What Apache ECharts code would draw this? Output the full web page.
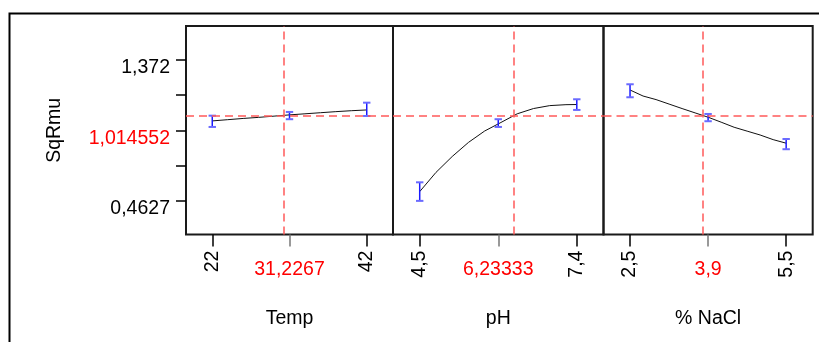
<!DOCTYPE html>
<html>
<head>
<meta charset="utf-8">
<script src="https://cdn.jsdelivr.net/npm/echarts@6/dist/echarts.min.js"></script>
<style>
  html, body { margin: 0; padding: 0; background: #ffffff; }
  #chart { width: 819px; height: 342px; }
</style>
</head>
<body>
<div id="chart"></div>
<script>
// Factor settings (low / high / current) and their printed labels
const factorNames = ['Temp', 'pH', '% NaCl'];
const factorLow = [22, 4.5, 2.5];
const factorHigh = [42, 7.4, 5.5];
const factorCurrent = [31.2267, 6.23333, 3.9];
const factorLowText = ['22', '4,5', '2,5'];
const factorHighText = ['42', '7,4', '5,5'];
const factorCurrentText = ['31,2267', '6,23333', '3,9'];

// Response
const responseName = 'SqRmu';
const responseLow = 0.4627;
const responseHigh = 1.372;
const responseCurrent = 1.014552;
const responseLowText = '0,4627';
const responseHighText = '1,372';
const responseCurrentText = '1,014552';

// Predicted response curves for each factor
const tempX = [22, 24, 26, 28, 30, 32, 34, 36, 38, 40, 42];
const tempY = [0.978, 0.986, 0.994, 1.001, 1.009, 1.017, 1.024, 1.031, 1.038, 1.044, 1.049];
const phX = [4.5, 4.8, 5.1, 5.4, 5.7, 6.0, 6.3, 6.6, 6.9, 7.2, 7.4];
const phY = [0.521, 0.645, 0.748, 0.839, 0.913, 0.968, 1.024, 1.058, 1.077, 1.083, 1.084];
const naclX = [2.5, 2.75, 3.0, 3.25, 3.5, 3.75, 4.0, 4.25, 4.5, 4.75, 5.0, 5.25, 5.5];
const naclY = [1.178, 1.139, 1.116, 1.087, 1.058, 1.030, 1.002, 0.970, 0.937, 0.912, 0.887, 0.857, 0.834];

// Interval bars at low / middle / high settings: [x, lower, upper]
const tempBars = [[22, 0.939, 1.012], [32, 0.989, 1.036], [42, 1.010, 1.096]];
const phBars = [[4.5, 0.461, 0.581], [5.95, 0.939, 0.989], [7.4, 1.049, 1.118]];
const naclBars = [[2.5, 1.131, 1.215], [4.0, 0.976, 1.023], [5.5, 0.795, 0.861]];

const curveX = [tempX, phX, naclX];
const curveY = [tempY, phY, naclY];
const bars = [tempBars, phBars, naclBars];

const panelLeft = [186, 393, 603.5];
const panelWidth = [207, 210.5, 209.2];
const panelTop = 26;
const panelHeight = 208.6;

const xPad = 0.17;
const yPad = 0.2417;
const ySpan = responseHigh - responseLow;
const yMin = responseLow - ySpan * yPad;
const yMax = responseHigh + ySpan * yPad;
const yMid = (responseLow + responseHigh) / 2;
const yTicks = [0, 1, 2, 3, 4].map(k => responseLow + k * ySpan / 4);

const FONT = 'Liberation Sans, Arial, sans-serif';
const FS = 19.5;
const RED = '#ff0000';
const DASH_RED = '#ff5a5a';

const grids = [], xAxes = [], yAxes = [], series = [];

for (let i = 0; i < 3; i++) {
  const lo = factorLow[i], hi = factorHigh[i], span = hi - lo;
  const mid = (lo + hi) / 2;
  const xmin = lo - span * xPad, xmax = hi + span * xPad;

  grids.push({
    left: panelLeft[i], top: panelTop, width: panelWidth[i], height: panelHeight,
    show: true, borderColor: '#1a1a1a', borderWidth: 2, backgroundColor: 'transparent'
  });

  // low / high settings: black rotated labels
  xAxes.push({
    type: 'value', gridIndex: i, position: 'bottom', min: xmin, max: xmax,
    name: factorNames[i], nameLocation: 'middle', nameGap: 74,
    nameTextStyle: { fontFamily: FONT, fontSize: FS, color: '#000' },
    axisLine: { show: false },
    splitLine: { show: false },
    axisTick: { show: true, length: 12, customValues: [lo, hi], lineStyle: { color: '#000', width: 1.5 } },
    axisLabel: {
      customValues: [lo, hi], rotate: 90, margin: 16,
      fontFamily: FONT, fontSize: FS, color: '#000',
      formatter: v => (Math.abs(v - lo) < 1e-9 ? factorLowText[i] : factorHighText[i])
    }
  });
  // current setting: red label at the middle position
  xAxes.push({
    type: 'value', gridIndex: i, position: 'bottom', min: xmin, max: xmax,
    axisLine: { show: false },
    splitLine: { show: false },
    axisTick: { show: true, length: 12, customValues: [mid], lineStyle: { color: '#777', width: 1.5 } },
    axisLabel: {
      customValues: [mid], margin: 25,
      fontFamily: FONT, fontSize: FS, color: RED,
      formatter: () => factorCurrentText[i]
    }
  });

  yAxes.push({
    type: 'value', gridIndex: i, min: yMin, max: yMax,
    name: i === 0 ? responseName : '', nameLocation: 'middle', nameRotate: 90, nameGap: 121,
    nameTextStyle: { fontFamily: FONT, fontSize: FS, color: '#000' },
    axisLine: { show: false },
    splitLine: { show: false },
    axisTick: { show: i === 0, length: 10, customValues: yTicks, lineStyle: { color: '#000', width: 1.5 } },
    axisLabel: {
      show: i === 0, customValues: [responseLow, yMid, responseHigh],
      margin: 16, verticalAlign: 'top', lineHeight: 16,
      fontFamily: FONT, fontSize: FS,
      color: v => (Math.abs(v - yMid) < 1e-9 ? RED : '#000'),
      formatter: v => {
        if (Math.abs(v - yMid) < 1e-9) return responseCurrentText;
        return Math.abs(v - responseLow) < 1e-9 ? responseLowText : responseHighText;
      }
    }
  });

  // predicted response curve with the current-setting reference lines
  series.push({
    type: 'line', xAxisIndex: i * 2, yAxisIndex: i,
    data: curveX[i].map((x, k) => [x, curveY[i][k]]),
    showSymbol: false, symbol: 'none', silent: true,
    lineStyle: { color: '#111', width: 1 },
    z: 3,
    markLine: {
      silent: true, symbol: 'none', animation: false,
      label: { show: false },
      lineStyle: { color: DASH_RED, type: [8, 5], width: 1.5 },
      data: [{ yAxis: responseCurrent }, { xAxis: factorCurrent[i] }]
    }
  });

  // interval bars
  series.push({
    type: 'custom', xAxisIndex: i * 2, yAxisIndex: i, z: 4, silent: true,
    data: bars[i],
    encode: { x: 0, y: [1, 2] },
    renderItem: (params, api) => {
      const x = api.value(0);
      const pLo = api.coord([x, api.value(1)]);
      const pHi = api.coord([x, api.value(2)]);
      const w = 3.7;
      return {
        type: 'group',
        children: [
          { type: 'line', shape: { x1: pLo[0], y1: pLo[1], x2: pHi[0], y2: pHi[1] },
            style: { stroke: '#1a1aff', lineWidth: 1.5 } },
          { type: 'line', shape: { x1: pLo[0] - w, y1: pLo[1], x2: pLo[0] + w, y2: pLo[1] },
            style: { stroke: '#6a6aff', lineWidth: 2 } },
          { type: 'line', shape: { x1: pHi[0] - w, y1: pHi[1], x2: pHi[0] + w, y2: pHi[1] },
            style: { stroke: '#6a6aff', lineWidth: 2 } }
        ]
      };
    }
  });
}

const chart = echarts.init(document.getElementById('chart'), null, { renderer: 'canvas' });
chart.setOption({
  animation: false,
  backgroundColor: '#ffffff',
  textStyle: { fontFamily: FONT },
  grid: grids,
  xAxis: xAxes,
  yAxis: yAxes,
  series: series,
  graphic: [{
    type: 'rect', left: 7, top: 11, silent: true,
    shape: { x: 0, y: 0, width: 840, height: 360 },
    style: { fill: 'none', stroke: '#000', lineWidth: 2 }
  }]
});
</script>
</body>
</html>
